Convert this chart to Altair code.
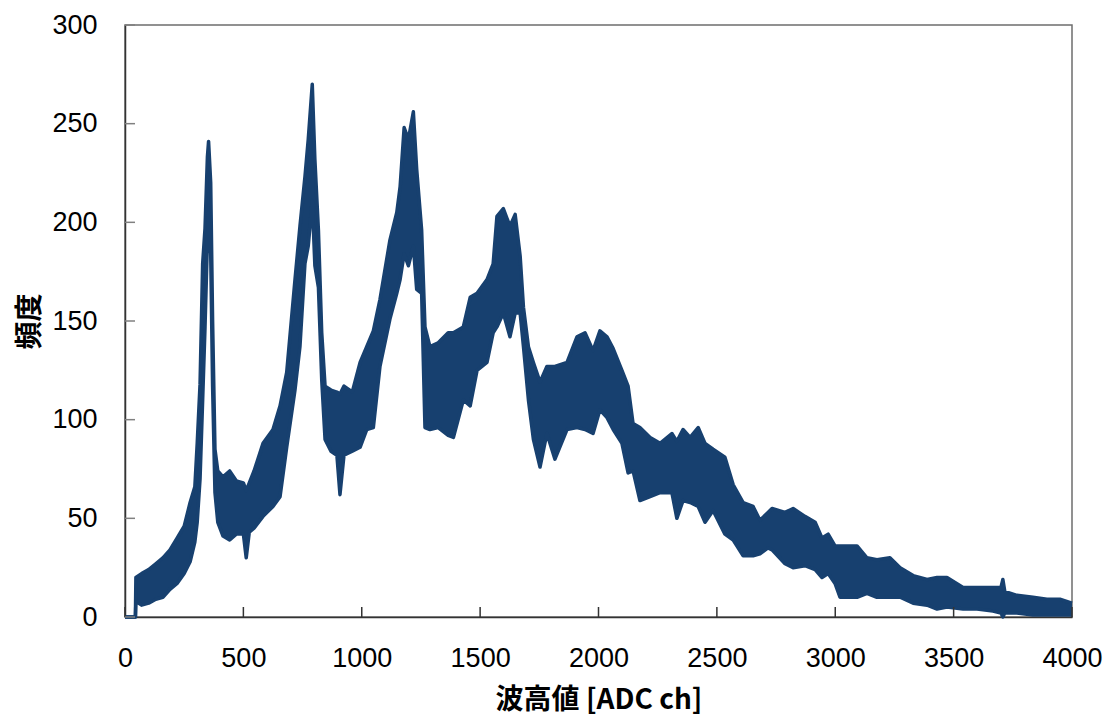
import altair as alt
import pandas as pd

channels = [0, 44, 46, 70, 100, 130, 160, 190, 220, 250, 275, 295, 305, 317,
            328, 338, 348, 353, 362, 370, 380, 392, 414, 442, 470, 500, 512, 525,
            545, 583, 625, 655, 683, 718, 739, 760, 774, 791, 802, 817, 831, 845,
            870, 895, 908, 925, 960, 993, 1021, 1049, 1077, 1119, 1148, 1162, 1179,
            1197, 1218, 1232, 1253, 1267, 1288, 1323, 1365, 1387, 1429, 1458, 1487,
            1529, 1555, 1571, 1598, 1626, 1648, 1669, 1683, 1704, 1725, 1753, 1782,
            1816, 1867, 1909, 1943, 1977, 2006, 2036, 2062, 2099, 2125, 2146, 2175,
            2218, 2260, 2310, 2331, 2357, 2387, 2421, 2450, 2484, 2534, 2569, 2611,
            2653, 2682, 2716, 2733, 2788, 2822, 2872, 2915, 2944, 2970, 2999, 3020,
            3092, 3134, 3176, 3231, 3274, 3329, 3388, 3430, 3472, 3540, 3599, 3666,
            3700, 3708, 3716, 3767, 3835, 3894, 3949, 4000]

# Lower edge of the noisy band (counts)
low = [0, 0, 8, 6, 7, 9, 10, 14, 17, 22, 28, 38, 48, 70,
       110, 147, 190, 205, 184, 117, 63, 48, 41, 39, 42, 42, 30, 43,
       45, 51, 56, 61, 86, 115, 137, 179, 188, 211, 178, 167, 120, 90,
       84, 82, 62, 82, 84, 86, 95, 96, 127, 151, 164, 171, 184,
       178, 188, 166, 164, 96, 95, 96, 92, 91, 110, 107, 125,
       129, 144, 147, 154, 142, 154, 154, 137, 110, 90, 76, 93,
       80, 95, 96, 95, 93, 105, 101, 95, 88, 73, 74, 59,
       61, 63, 63, 50, 59, 58, 56, 48, 54, 42, 39, 31,
       31, 32, 35, 34, 27, 25, 26, 24, 20, 22, 17, 10,
       10, 12, 10, 10, 10, 7, 6, 4, 5, 4, 4, 3,
       2, 0, 2, 2, 1, 1, 1, 1]

# Upper edge of the noisy band (counts)
high = [0, 0, 20, 22, 24, 27, 30, 34, 40, 46, 58, 66, 88, 118,
        179, 197, 233, 241, 220, 150, 85, 74, 71, 74, 69, 68, 64, 68,
        74, 88, 95, 107, 124, 171, 198, 223, 242, 270, 232, 196, 144, 117,
        115, 114, 113, 117, 114, 129, 137, 145, 161, 191, 205, 218, 248,
        242, 256, 227, 196, 147, 137, 139, 144, 144, 147, 162, 164,
        171, 179, 203, 207, 198, 204, 183, 157, 137, 129, 119, 127,
        127, 129, 142, 144, 135, 145, 142, 136, 125, 117, 98, 96,
        91, 88, 93, 89, 95, 91, 96, 88, 85, 81, 67, 58,
        56, 49, 53, 55, 53, 55, 51, 48, 40, 42, 36, 36,
        36, 30, 29, 30, 25, 21, 19, 20, 20, 15, 15, 15,
        15, 19, 13, 11, 10, 9, 9, 7]

x_ticks = [0, 500, 1000, 1500, 2000, 2500, 3000, 3500, 4000]
y_ticks = [0, 50, 100, 150, 200, 250, 300]

COLOR = "#17406f"
W, H = 947, 592

df = pd.DataFrame({"ch": channels, "lo": low, "hi": high})
xt = pd.DataFrame({"v": x_ticks})
yt = pd.DataFrame({"v": y_ticks})

xscale = alt.Scale(domain=[0, 4000], nice=False, zero=False)
yscale = alt.Scale(domain=[0, 300], nice=False)

x_axis = alt.Axis(
    values=x_ticks, format="d", ticks=False, grid=False, labelFlush=False,
    labelFont="Liberation Sans", labelFontSize=27, labelColor="#000000",
    labelPadding=28, domainColor="#333333", domainWidth=1.5,
    title="波高値 [ADC ch]", titleFont="Noto Sans CJK JP", titleFontSize=28,
    titleFontWeight="bold", titleColor="#000000",
    titleX=W / 2, titleY=91, titleAlign="center", titleBaseline="alphabetic",
)
y_axis = alt.Axis(
    values=y_ticks, format="d", ticks=False, grid=False, labelFlush=False,
    labelFont="Liberation Sans", labelFontSize=27, labelColor="#000000",
    labelPadding=28, domainColor="#333333", domainWidth=1.5,
    title="頻度", titleFont="Noto Sans CJK JP", titleFontSize=28,
    titleFontWeight="bold", titleColor="#000000", titleAngle=270,
    titleX=-87, titleY=H / 2, titleAlign="center", titleBaseline="alphabetic",
)

base = alt.Chart(df)

band = base.mark_area(color=COLOR, opacity=1, interpolate="linear").encode(
    x=alt.X("ch:Q", scale=xscale, axis=x_axis),
    y=alt.Y("lo:Q", scale=yscale, axis=y_axis),
    y2="hi:Q",
)
edge_hi = base.mark_line(color=COLOR, strokeWidth=3.5, strokeJoin="round").encode(
    x="ch:Q", y="hi:Q"
)
edge_lo = base.mark_line(color=COLOR, strokeWidth=3.5, strokeJoin="round").encode(
    x="ch:Q", y="lo:Q"
)

xtick_marks = alt.Chart(xt).mark_rule(color="#333333", strokeWidth=1.5).encode(
    x="v:Q", y=alt.value(H), y2=alt.value(H - 10)
)
ytick_marks = alt.Chart(yt).mark_rule(color="#808080", strokeWidth=1.5).encode(
    y="v:Q", x=alt.value(0), x2=alt.value(10)
)

chart = (
    alt.layer(band, edge_hi, edge_lo, xtick_marks, ytick_marks)
    .properties(
        width=W, height=H,
        autosize=alt.AutoSizeParams(type="none"),
        padding={"left": 125, "top": 25, "right": 36, "bottom": 99},
        background="white",
    )
    .configure_view(stroke="#6e6e6e", strokeWidth=1.5)
)

chart.save("out.html", embed_options={"renderer": "svg", "actions": False})
